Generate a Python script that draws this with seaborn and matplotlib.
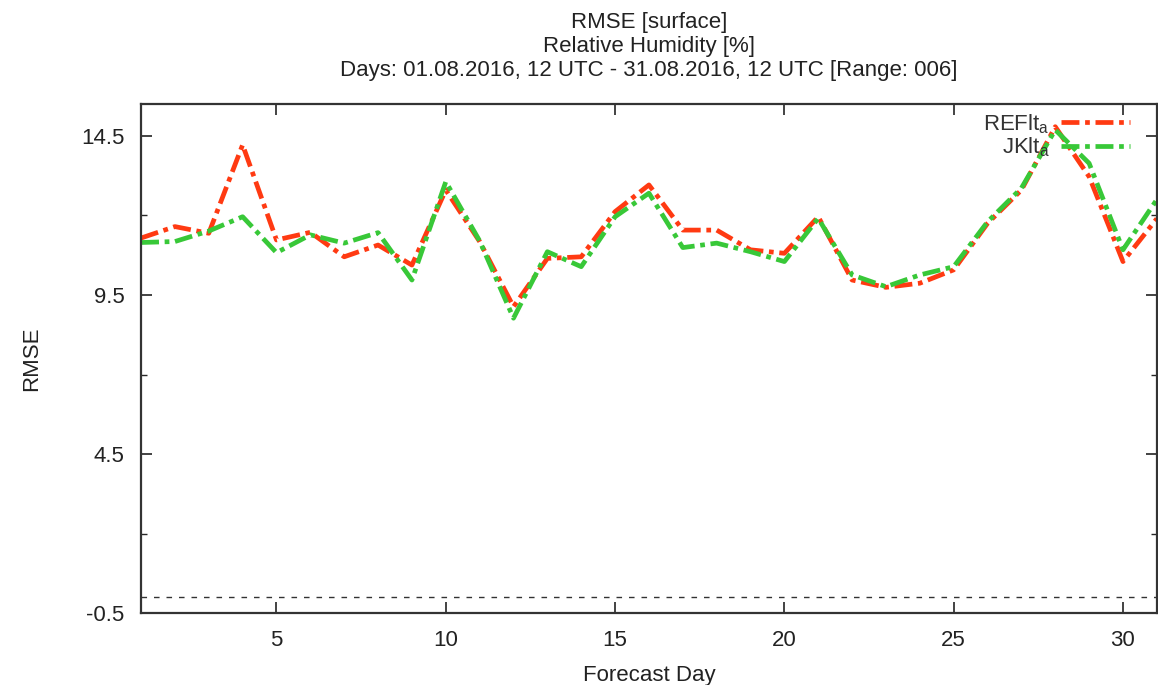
import matplotlib
matplotlib.use("Agg")
import matplotlib.pyplot as plt
import seaborn as sns
import pandas as pd
from matplotlib.lines import Line2D

days = list(range(1, 32))
refl_vals = [11.29, 11.65, 11.44, 14.22, 11.23, 11.47, 10.70, 11.07, 10.44, 12.80,
             11.18, 9.13, 10.65, 10.70, 12.12, 12.96, 11.54, 11.54, 10.92, 10.81,
             11.96, 9.97, 9.74, 9.87, 10.29, 11.75, 12.80, 14.79, 13.22, 10.55, 11.90]
jk_vals = [11.15, 11.18, 11.51, 11.96, 10.83, 11.39, 11.13, 11.46, 9.97, 13.06,
           11.20, 8.77, 10.86, 10.39, 11.96, 12.70, 10.99, 11.13, 10.86, 10.55,
           11.91, 10.13, 9.76, 10.13, 10.39, 11.80, 12.86, 14.69, 13.64, 10.92, 12.50]
series_names = ["REFlt$_\\mathrm{a}$", "JKlt$_\\mathrm{a}$"]
series_colors = ["#ff3a12", "#38c838"]
title_lines = ["RMSE [surface]", "Relative Humidity [%]",
               "Days: 01.08.2016, 12 UTC - 31.08.2016, 12 UTC [Range: 006]"]
y_major = [-0.5, 4.5, 9.5, 14.5]
y_minor = [2, 7, 12]
x_major = [5, 10, 15, 20, 25, 30]

df = pd.DataFrame({
    "day": days * 2,
    "rmse": refl_vals + jk_vals,
    "series": [series_names[0]] * len(days) + [series_names[1]] * len(days),
})

sns.set_theme(style="ticks")
plt.rcParams['font.family'] = ['Liberation Sans', 'DejaVu Sans']
plt.rcParams['mathtext.fontset'] = 'custom'
plt.rcParams['mathtext.rm'] = 'Liberation Sans'

fig = plt.figure(figsize=(11.58, 6.85), dpi=100)
ax = fig.add_axes([0.1218, 0.105, 0.8772, 0.743])

dash = (0, (3.8, 1.2, 1.0, 1.2))
sns.lineplot(data=df, x="day", y="rmse", hue="series", palette=series_colors,
             hue_order=series_names, ax=ax, linewidth=3.4, legend=False)
for line in ax.lines:
    line.set_linestyle(dash)

ax.axhline(0, color="#333333", linewidth=1, linestyle=(0, (4, 5)), zorder=0)

ax.set_xlim(1, 31)
ax.set_ylim(-0.5, 15.5)
ax.set_xticks(x_major)
ax.set_yticks(y_major)
ax.set_yticks(y_minor, minor=True)
ax.set_yticklabels([str(v) for v in y_major])
ax.tick_params(axis="both", which="major", direction="in", length=8, width=1.2,
               top=True, right=True, labelsize=16, colors="#222222", pad=12)
ax.tick_params(axis="y", which="minor", direction="in", length=4, width=1,
               left=True, right=True)
for s in ax.spines.values():
    s.set_linewidth(1.6)
    s.set_color("#333333")
    s.set_visible(True)

ax.set_xlabel("Forecast Day", fontsize=16, color="#222222", labelpad=10)
ax.set_ylabel("RMSE", fontsize=16, color="#222222", labelpad=28)
ax.set_title("\n".join(title_lines), fontsize=16, color="#222222",
             linespacing=1.2, pad=20)

handles = [Line2D([], [], color=c, linewidth=3.4, linestyle=dash)
           for c in series_colors]
leg = ax.legend(handles, series_names, loc="upper right", frameon=False,
                markerfirst=False, fontsize=16, handlelength=3.1,
                bbox_to_anchor=(1 - 27 / 1016, 1 - 8 / 509), labelspacing=0.0,
                handletextpad=0.5, borderaxespad=0, borderpad=0)
for t in leg.get_texts():
    t.set_color("#333333")

fig.savefig("out.png", dpi=100)
